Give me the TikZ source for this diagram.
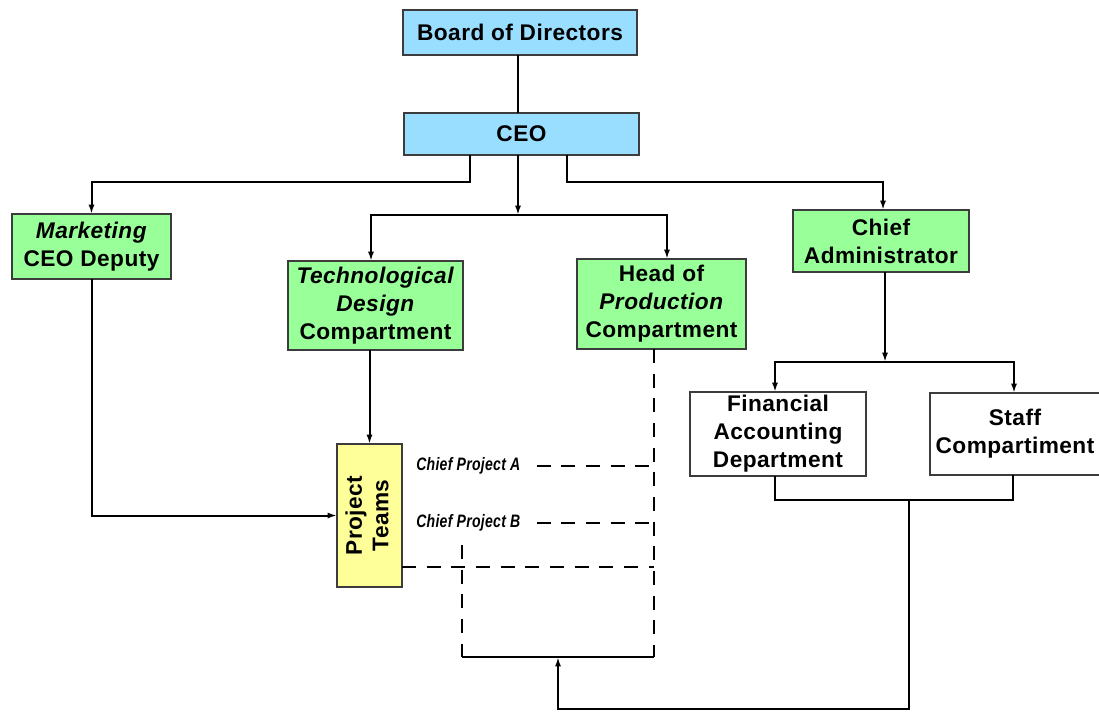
\documentclass[tikz,border=0pt]{standalone}
\usepackage{fontspec}
\usepackage{graphicx}
\setmainfont{Liberation Sans}[LetterSpace=2]
\usetikzlibrary{arrows.meta}
\definecolor{topblue}{RGB}{153,221,255}
\definecolor{unitgreen}{RGB}{153,255,153}
\definecolor{teamyellow}{RGB}{255,255,153}
\definecolor{rim}{RGB}{60,60,60}
\begin{document}
\begin{tikzpicture}[x=0.75pt,y=-0.75pt,
  box/.style={draw=rim, line width=0.9pt, inner sep=0pt, outer sep=0pt,
    align=center, font=\fontsize{17}{21}\selectfont\bfseries},
  bluebox/.style={box, fill=topblue},
  greenbox/.style={box, fill=unitgreen},
  whitebox/.style={box, fill=white},
  yellowbox/.style={box, fill=teamyellow},
  conn/.style={line width=1.5pt, line join=miter},
  arr/.style={conn, -{Latex[length=7pt,width=4.5pt]}},
  dsh/.style={line width=1.5pt, dash pattern=on 10.5pt off 8pt},
  lab/.style={inner sep=0pt, font=\fontsize{13.5}{16}\selectfont\bfseries\itshape}]
\useasboundingbox (0,0) rectangle (1099,711);

% boxes
\node[bluebox, minimum width=175.5pt, minimum height=33.75pt] (bod) at (520,32.5) {Board of Directors};
\node[bluebox, minimum width=176.25pt, minimum height=31.5pt] (ceo) at (521.5,134) {CEO};
\node[greenbox, minimum width=119.25pt, minimum height=48.75pt] (mkt) at (91.5,246.5) {\textit{Marketing}\\CEO Deputy};
\node[greenbox, minimum width=131.25pt, minimum height=66.75pt] (tech) at (375.5,305.5) {\textit{Technological}\\\textit{Design}\\Compartment};
\node[greenbox, minimum width=126.75pt, minimum height=67.5pt] (head) at (661.5,304) {Head of\\\textit{Production}\\Compartment};
\node[greenbox, minimum width=132pt, minimum height=46.5pt] (chief) at (881,241) {Chief\\Administrator};
\node[whitebox, minimum width=132pt, minimum height=63pt] (fin) at (778,434) {Financial\\Accounting\\Department};
\node[whitebox, minimum width=127.5pt, minimum height=61.5pt] (staff) at (1015,434) {Staff\\Compartiment};
\node[yellowbox, minimum width=48.75pt, minimum height=107.25pt] (pt) at (369.5,515.5)
  {\rotatebox{90}{\begin{tabular}{@{}c@{}}Project\\[-1pt]Teams\end{tabular}}};

% labels of the project chiefs
\node[lab, anchor=west] (labA) at (416,466) {\scalebox{0.78}[1]{Chief Project A}};
\node[lab, anchor=west] (labB) at (416,523) {\scalebox{0.78}[1]{Chief Project B}};

% junction points
\coordinate (jC) at (518,215);
\coordinate (jA) at (885,362);
\coordinate (jB) at (909,500);
\coordinate (jD) at (558,657);

% top of the hierarchy
\draw[conn] (bod.south -| 518,0) -- (ceo.north -| 518,0);
\draw[arr] (ceo.south -| 470,0) |- (91.5,182) -- (mkt.north);
\draw[arr] (ceo.south -| jC) -- (jC);
\draw[arr] (jC) -| (tech.north -| 371,0);
\draw[arr] (jC) -| (head.north -| 667,0);
\draw[arr] (ceo.south -| 567,0) |- (883,182) -- (chief.north -| 883,0);

% administration
\draw[arr] (chief.south -| jA) -- (jA);
\draw[arr] (jA) -| (fin.north -| 775,0);
\draw[arr] (jA) -| (staff.north -| 1014,0);
\draw[conn] (fin.south -| 775,0) -- (775,500) -| (staff.south -| 1013,0);
\draw[arr] (jB) -- (909,709) -| (jD);

% project teams
\draw[arr] (tech.south -| pt.north) -- (pt.north);
\draw[arr] (mkt.south) |- (pt.west);

% production links
\draw[dsh] (head.south -| 654,0) -- (654,657);
\draw[dsh] (462,545) -- (462,657);
\draw[conn] (462,657) -- (654,657);
\draw[dsh] ([xshift=12pt]labA.east) -- (labA.east -| 654,0);
\draw[dsh] ([xshift=12pt]labB.east) -- (labB.east -| 654,0);
\draw[dsh] (pt.east |- 0,567) -- (654,567);
\end{tikzpicture}
\end{document}
